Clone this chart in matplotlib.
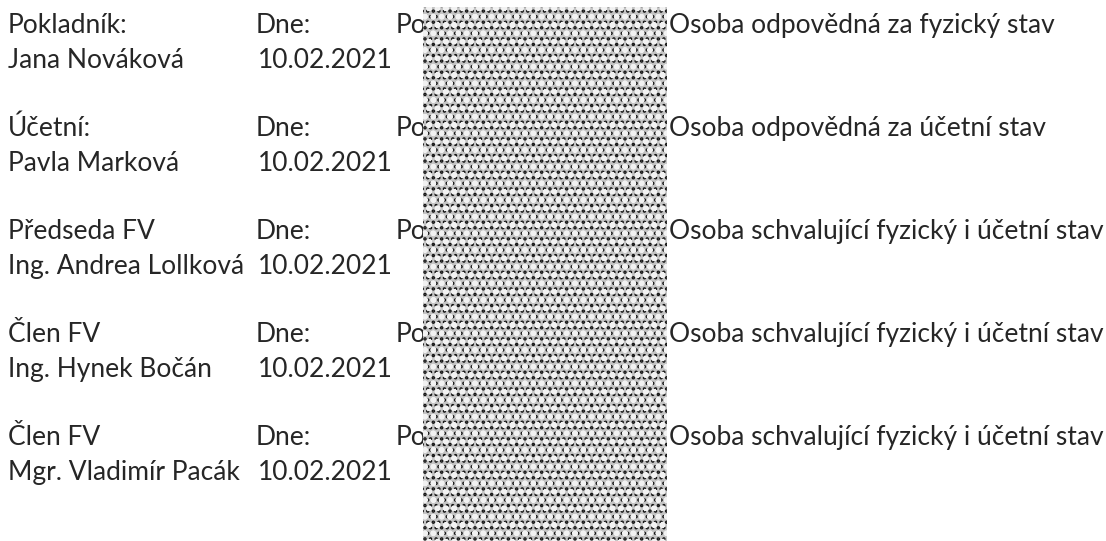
import matplotlib.pyplot as plt
from matplotlib.patches import Rectangle

# podpisové řádky
funkce = ["Pokladník:", "Účetní:", "Předseda FV", "Člen FV", "Člen FV"]
jmena = ["Jana Nováková", "Pavla Marková", "Ing. Andrea Lollková",
         "Ing. Hynek Bočán", "Mgr. Vladimír Pacák"]
data_podpisu = ["10.02.2021"] * 5
popisy = ["Osoba odpovědná za fyzický stav",
          "Osoba odpovědná za účetní stav",
          "Osoba schvalující fyzický i účetní stav",
          "Osoba schvalující fyzický i účetní stav",
          "Osoba schvalující fyzický i účetní stav"]

plt.rcParams["font.family"] = ["Lato", "DejaVu Sans"]
plt.rcParams["hatch.linewidth"] = 1.6
barva = "#262626"
vel = 19

fig = plt.figure(figsize=(11.06, 5.41), dpi=100)
ax = fig.add_axes([0, 0, 1, 1])
ax.set_xlim(0, 1106)
ax.set_ylim(541, 0)
ax.axis("off")

for i in range(len(funkce)):
    y1 = 33 + i * 103
    y2 = y1 + 35
    ax.text(8, y1, funkce[i], fontsize=vel, color=barva, va="baseline")
    ax.text(8, y2, jmena[i], fontsize=vel, color=barva, va="baseline")
    ax.text(256, y1, "Dne:", fontsize=vel, color=barva, va="baseline")
    ax.text(258, y2, data_podpisu[i], fontsize=vel, color=barva, va="baseline")
    ax.text(396, y1, "Podpis:", fontsize=vel, color=barva, va="baseline")
    ax.text(669, y1, popisy[i], fontsize=vel, color=barva, va="baseline")

# začerněné podpisy (šum)
ax.add_patch(Rectangle((423, 7), 244, 540, facecolor="#c4c4c4", edgecolor="none", zorder=5))
ax.add_patch(Rectangle((423, 7), 244, 540, facecolor="none", edgecolor="#111111",
                       hatch="...", linewidth=0, zorder=6))
ax.add_patch(Rectangle((423, 7), 244, 540, facecolor="none", edgecolor="#f2f2f2",
                       hatch="oo", linewidth=0, zorder=7))

fig.savefig("out.png", dpi=100, facecolor="white")
